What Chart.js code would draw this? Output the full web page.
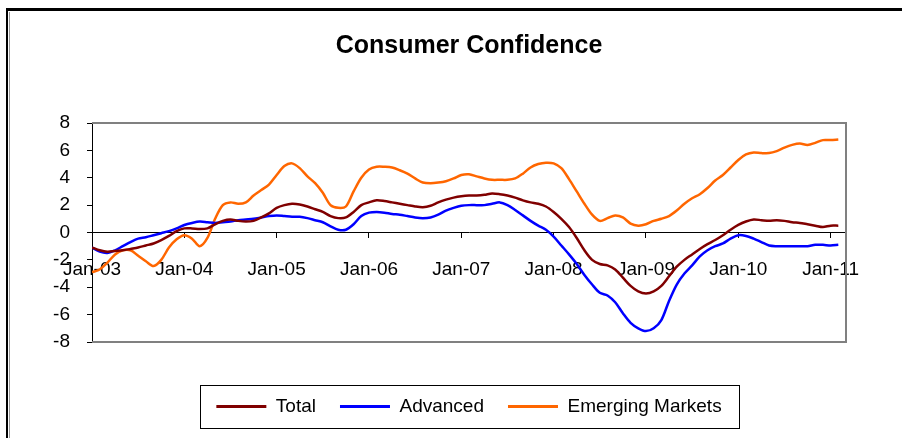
<!DOCTYPE html>
<html>
<head>
<meta charset="utf-8">
<script src="https://cdn.jsdelivr.net/npm/chart.js@4.4.1/dist/chart.umd.min.js"></script>
<style>
  html, body { margin: 0; padding: 0; background: #fff; }
  #wrap { position: relative; width: 902px; height: 438px; overflow: hidden; }
  #frame { position: absolute; left: 6px; top: 8px; width: 940px; height: 460px;
    border-top: 3px solid #000; border-left: 2px solid #000; pointer-events: none; }
  #inner { position: absolute; left: 9px; top: 12px; width: 1px; height: 430px;
    background: #999; pointer-events: none; }
</style>
</head>
<body>
<div id="wrap">
  <canvas id="myChart" width="902" height="438"></canvas>
  <div id="frame"></div>
  <div id="inner"></div>
</div>
<script>
// monthly values, Jan-03 .. Feb-11
const total = [
  -1.1, -1.3, -1.4, -1.35, -1.3, -1.2, -1.1, -0.95, -0.8, -0.55, -0.25, 0.1,
  0.3, 0.3, 0.25, 0.3, 0.6, 0.85, 0.95, 0.85, 0.8, 0.85, 1.1, 1.4,
  1.8, 2.0, 2.1, 2.05, 1.9, 1.7, 1.5, 1.2, 1.05, 1.1, 1.5, 2.0,
  2.2, 2.35, 2.3, 2.2, 2.1, 2.0, 1.9, 1.85, 1.95, 2.2, 2.4, 2.55,
  2.65, 2.7, 2.7, 2.75, 2.85, 2.8, 2.7, 2.55, 2.35, 2.2, 2.1, 1.9,
  1.5, 1.0, 0.4, -0.4, -1.3, -2.0, -2.3, -2.4, -2.7, -3.3, -3.9, -4.3,
  -4.45, -4.3, -3.9, -3.2, -2.5, -2.0, -1.6, -1.2, -0.85, -0.55, -0.2, 0.2,
  0.55, 0.8, 0.95, 0.9, 0.85, 0.9, 0.85, 0.75, 0.7, 0.6, 0.5, 0.4,
  0.5, 0.5
];
const advanced = [
  -1.1, -1.4, -1.5, -1.3, -1.0, -0.7, -0.45, -0.35, -0.2, -0.05, 0.1, 0.3,
  0.55, 0.7, 0.8, 0.75, 0.7, 0.75, 0.8, 0.9, 0.95, 1.0, 1.1, 1.2,
  1.25, 1.2, 1.15, 1.15, 1.05, 0.9, 0.75, 0.45, 0.2, 0.2, 0.6, 1.2,
  1.45, 1.5, 1.45, 1.35, 1.3, 1.2, 1.1, 1.05, 1.1, 1.3, 1.6, 1.8,
  1.95, 2.0, 2.0, 2.0, 2.1, 2.2, 2.0, 1.65, 1.25, 0.85, 0.5, 0.2,
  -0.3, -0.95, -1.6, -2.3, -3.1, -3.8, -4.4, -4.6, -5.1, -5.9, -6.6, -7.0,
  -7.2, -7.0, -6.4, -5.0, -3.8, -3.0, -2.4, -1.75, -1.3, -1.0, -0.8, -0.45,
  -0.2, -0.25, -0.45, -0.7, -0.95, -1.0, -1.0, -1.0, -1.0, -1.0, -0.9, -0.9,
  -0.95, -0.9
];
const emerging = [
  -2.9, -2.7, -2.2, -1.6, -1.3, -1.3, -1.7, -2.1, -2.45, -2.0, -1.1, -0.5,
  -0.2, -0.45, -1.0, -0.4, 1.0, 2.0, 2.2, 2.1, 2.2, 2.7, 3.1, 3.5,
  4.2, 4.85, 5.05, 4.7, 4.1, 3.6, 2.9, 2.0, 1.8, 1.9, 3.0, 4.0,
  4.6, 4.8, 4.8, 4.75, 4.55, 4.3, 3.95, 3.65, 3.6, 3.65, 3.75, 3.95,
  4.2, 4.25, 4.1, 3.95, 3.85, 3.85, 3.85, 3.95, 4.3, 4.75, 5.0, 5.1,
  5.05, 4.7, 3.9, 3.0, 2.1, 1.3, 0.85, 1.05, 1.25, 1.1, 0.65, 0.5,
  0.6, 0.85, 1.0, 1.2, 1.6, 2.1, 2.5, 2.8, 3.25, 3.8, 4.2, 4.75,
  5.3, 5.7, 5.85, 5.8, 5.8, 5.95, 6.2, 6.4, 6.5, 6.4, 6.55, 6.75,
  6.75, 6.8
];
const yearLabels = ['Jan-03', 'Jan-04', 'Jan-05', 'Jan-06', 'Jan-07', 'Jan-08', 'Jan-09', 'Jan-10', 'Jan-11'];
const seriesNames = ['Total', 'Advanced', 'Emerging Markets'];

const colors = ['#800000', '#0000ff', '#ff6600'];
const font = "'Liberation Sans', Arial, sans-serif";

function toPoints(vals) {
  return vals.map((v, i) => ({ x: i, y: v }));
}

// gray plot frame (top, right, bottom) + box round the legend
const plotFrame = {
  id: 'plotFrame',
  beforeDatasetsDraw(chart) {
    const { ctx, chartArea: a } = chart;
    ctx.save();
    ctx.strokeStyle = '#808080';
    ctx.lineWidth = 2;
    ctx.beginPath();
    ctx.moveTo(a.left, a.top);
    ctx.lineTo(a.right, a.top);
    ctx.lineTo(a.right, a.bottom);
    ctx.lineTo(a.left, a.bottom);
    ctx.stroke();
    ctx.restore();
  },
  afterDraw(chart) {
    const boxes = chart.legend.legendHitBoxes;
    if (!boxes || !boxes.length) return;
    const first = boxes[0];
    const last = boxes[boxes.length - 1];
    const { ctx } = chart;
    ctx.save();
    ctx.strokeStyle = '#000';
    ctx.lineWidth = 1;
    ctx.strokeRect(Math.round(first.left - 16) + 0.5, Math.round(first.top - 12) + 0.5,
      Math.round(last.left + last.width + 18 - (first.left - 16)),
      Math.round(first.height + 24));
    ctx.restore();
  }
};

const ctx = document.getElementById('myChart').getContext('2d');
// eslint-disable-next-line no-undef
const chart = new Chart(ctx, {
  type: 'line',
  data: {
    datasets: [total, advanced, emerging].map((vals, i) => ({
      label: seriesNames[i],
      data: toPoints(vals),
      borderColor: colors[i],
      backgroundColor: colors[i],
      borderWidth: 2.5,
      pointRadius: 0,
      tension: 0.3,
      fill: false
    }))
  },
  options: {
    responsive: false,
    animation: false,
    layout: { padding: { top: 10, left: 0, right: 56, bottom: 12 } },
    scales: {
      x: {
        type: 'linear',
        min: 0,
        max: 98,
        position: { y: 0 },
        ticks: {
          stepSize: 12,
          includeBounds: false,
          autoSkip: false,
          maxRotation: 0,
          padding: 21,
          color: '#000',
          font: { family: font, size: 19 },
          callback: v => yearLabels[v / 12] || ''
        },
        grid: { drawOnChartArea: false, drawTicks: true, tickLength: 5, color: '#000' },
        border: { display: true, color: '#000', width: 1 }
      },
      y: {
        min: -8,
        max: 8,
        ticks: {
          stepSize: 2,
          padding: 17,
          color: '#000',
          font: { family: font, size: 19 }
        },
        grid: { drawOnChartArea: false, drawTicks: true, tickLength: 5, color: '#000' },
        border: { display: true, color: '#000', width: 1 },
        afterFit(scale) { scale.width = 92; }
      }
    },
    plugins: {
      title: {
        display: true,
        text: 'Consumer Confidence',
        fullSize: false,
        color: '#000',
        font: { family: font, size: 25, weight: 'bold' },
        padding: { top: 21, bottom: 62 }
      },
      subtitle: {
        display: true,
        text: '',
        position: 'bottom',
        weight: 500,
        fullSize: false,
        font: { size: 10 },
        padding: { top: 19, bottom: 0 }
      },
      legend: {
        position: 'bottom',
        fullSize: false,
        labels: {
          boxWidth: 50,
          boxHeight: 3,
          padding: 24,
          color: '#000',
          font: { family: font, size: 19 },
          generateLabels: c => Chart.defaults.plugins.legend.labels.generateLabels(c)
            .map(item => ({ ...item, lineWidth: 0 }))
        }
      },
      tooltip: { enabled: false }
    }
  },
  plugins: [plotFrame]
});
</script>
</body>
</html>
